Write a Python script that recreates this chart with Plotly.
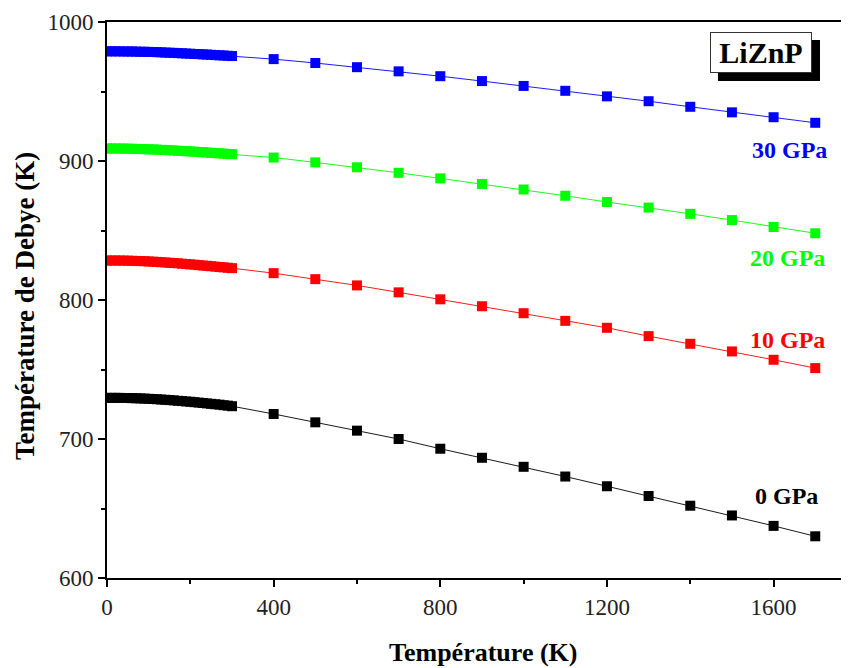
import plotly.graph_objects as go

# Temperature grid (K)
T_low = [0, 10, 20, 30, 40, 50, 60, 70, 80, 90, 100, 110, 120, 130, 140, 150,
         160, 170, 180, 190, 200, 210, 220, 230, 240, 250, 260, 270, 280, 290, 300]
T_high = [400, 500, 600, 700, 800, 900, 1000, 1100, 1200, 1300, 1400, 1500, 1600, 1700]

# Debye temperature (K)
p0_low = [729.6, 729.6, 729.6, 729.6, 729.5, 729.5, 729.4, 729.3, 729.2, 729.1, 728.9,
          728.8, 728.6, 728.4, 728.2, 728.0, 727.8, 727.5, 727.3, 727.0, 726.8, 726.5,
          726.2, 725.9, 725.6, 725.3, 725.0, 724.7, 724.3, 724.0, 723.6]
p0_high = [718, 712, 706, 700, 693, 686.5, 680, 673, 666, 659, 652, 645, 637.5, 630]

p10_low = [828.4, 828.4, 828.4, 828.4, 828.3, 828.3, 828.2, 828.1, 828.0, 827.9, 827.7,
           827.6, 827.4, 827.2, 827.0, 826.8, 826.6, 826.4, 826.1, 825.9, 825.6, 825.4,
           825.1, 824.8, 824.6, 824.3, 824.0, 823.7, 823.5, 823.2, 822.9]
p10_high = [819.3, 815, 810.5, 805.5, 800.5, 795.5, 790.5, 785, 780, 774, 768.5, 763, 757, 751]

p20_low = [909.0, 909.0, 909.0, 909.0, 908.9, 908.9, 908.8, 908.7, 908.6, 908.5, 908.4,
           908.3, 908.2, 908.0, 907.9, 907.7, 907.6, 907.4, 907.2, 907.0, 906.9, 906.7,
           906.5, 906.3, 906.1, 905.9, 905.7, 905.5, 905.3, 905.1, 904.9]
p20_high = [902.5, 899, 895.5, 891.5, 887.5, 883.5, 879.5, 875, 870.5, 866.5, 862, 857.5, 852.5, 848]

p30_low = [978.9, 978.9, 978.9, 978.9, 978.8, 978.8, 978.8, 978.7, 978.6, 978.6, 978.5,
           978.4, 978.3, 978.2, 978.0, 977.9, 977.8, 977.6, 977.5, 977.3, 977.2, 977.0,
           976.9, 976.7, 976.6, 976.4, 976.2, 976.0, 975.9, 975.7, 975.5]
p30_high = [973.3, 970.5, 967.5, 964.5, 961, 957.5, 954, 950.5, 946.5, 943, 939, 935, 931.5, 927.5]

x_ticks = [0, 400, 800, 1200, 1600]
x_minor = [200, 600, 1000, 1400]
y_ticks = [600, 700, 800, 900, 1000]
y_minor = [650, 750, 850, 950]

series = [
    ("0 GPa", p0_low, p0_high, "#000000", 1630, 659),
    ("10 GPa", p10_low, p10_high, "#FF0000", 1633, 771),
    ("20 GPa", p20_low, p20_high, "#00FF00", 1634, 830),
    ("30 GPa", p30_low, p30_high, "#0000FF", 1639, 908),
]

SERIF = "Liberation Serif"

fig = go.Figure()
for name, lo, hi, col, lx, ly in series:
    fig.add_trace(go.Scatter(
        x=T_low + T_high, y=lo + hi, mode="lines+markers", name=name,
        line=dict(color=col, width=0.9),
        marker=dict(symbol="square", size=10, color=col, line=dict(width=0)),
        showlegend=False,
    ))
    fig.add_annotation(x=lx, y=ly, text="<b>%s</b>" % name, showarrow=False,
                       xanchor="center", yanchor="middle",
                       font=dict(family=SERIF, size=24, color=col))

# LiZnP label box with shadow
fig.add_shape(type="rect", xref="paper", yref="paper",
              x0=(718 - 107) / 742, x1=(820 - 107) / 742,
              y0=(578 - 81) / 556, y1=(578 - 40) / 556,
              fillcolor="black", line=dict(width=0), layer="above")
fig.add_annotation(xref="paper", yref="paper",
                   x=(761 - 107) / 742, y=(578 - 52.5) / 556,
                   xanchor="center", yanchor="middle",
                   text="<b>LiZnP</b>", showarrow=False,
                   font=dict(family=SERIF, size=30, color="black"),
                   bgcolor="white", bordercolor="#333333", borderwidth=1,
                   width=100, height=39, borderpad=0)

# Axis titles
fig.add_annotation(xref="paper", yref="paper", x=(483 - 107) / 742, y=(578 - 652) / 556,
                   xanchor="center", yanchor="middle",
                   text="<b>Température (K)</b>", showarrow=False,
                   font=dict(family=SERIF, size=26, color="black"))
fig.add_annotation(xref="paper", yref="paper", x=(25 - 107) / 742, y=(578 - 306) / 556,
                   xanchor="center", yanchor="middle",
                   text="<b>Température de Debye (K)</b>", showarrow=False, textangle=-90,
                   font=dict(family=SERIF, size=27, color="black"))

fig.update_xaxes(range=[0, 1781], tickmode="array", tickvals=x_ticks,
                 showline=True, linecolor="black", linewidth=2, mirror=True,
                 ticks="outside", ticklen=7, tickwidth=2, tickcolor="black",
                 minor=dict(tickmode="array", tickvals=x_minor, ticks="outside",
                            ticklen=4, tickwidth=2, tickcolor="black", showgrid=False),
                 showgrid=False, zeroline=False,
                 tickfont=dict(family=SERIF, size=23, color="#222222"))
fig.update_yaxes(range=[600, 1000], tickmode="array", tickvals=y_ticks,
                 showline=True, linecolor="black", linewidth=2,
                 ticks="outside", ticklen=7, tickwidth=2, tickcolor="black",
                 minor=dict(tickmode="array", tickvals=y_minor, ticks="outside",
                            ticklen=4, tickwidth=2, tickcolor="black", showgrid=False),
                 showgrid=False, zeroline=False,
                 tickfont=dict(family=SERIF, size=23, color="#222222"))

# page body has an 8px margin: figure is sized/offset to fill the 849x668 window
fig.update_layout(width=841, height=660, margin=dict(l=99, r=0, t=14, b=90),
                  plot_bgcolor="white", paper_bgcolor="white")

fig.write_html("out.html")
